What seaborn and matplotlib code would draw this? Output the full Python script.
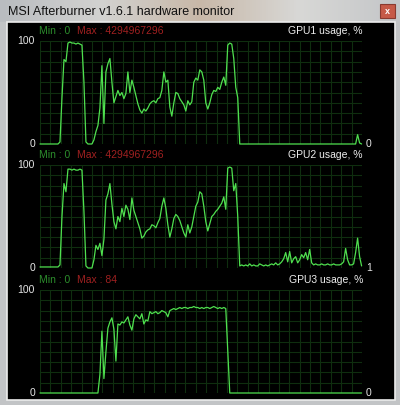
import numpy as np
import matplotlib
matplotlib.use("Agg")
import matplotlib.pyplot as plt
from matplotlib.patches import Rectangle
import seaborn as sns

# ==========================================
# 数据 (每2像素一个采样点, 0..161)
# ==========================================
gpu1_usage = [
    0, 0, 0, 0, 0, 0, 0, 0, 0, 0,
    2, 45, 82, 80, 98, 99, 98, 98, 97, 98,
    97, 96, 60, 2, 0, 0, 0, 4, 12, 18,
    35, 76, 20, 70, 78, 83, 60, 40, 46, 52,
    47, 50, 44, 49, 70, 50, 62, 55, 47, 39,
    33, 30, 34, 32, 35, 39, 41, 42, 40, 44,
    45, 52, 70, 60, 62, 36, 27, 40, 50, 49,
    44, 41, 38, 32, 42, 38, 41, 60, 64, 62,
    72, 70, 62, 40, 34, 40, 48, 52, 51, 55,
    53, 60, 65, 57, 96, 98, 97, 83, 55, 45,
    0, 0, 0, 0, 0, 0, 0, 0, 0, 0,
    0, 0, 0, 0, 0, 0, 0, 0, 0, 0,
    0, 0, 0, 0, 0, 0, 0, 0, 0, 0,
    0, 0, 0, 0, 0, 0, 0, 0, 0, 0,
    0, 0, 0, 0, 0, 0, 0, 0, 0, 0,
    0, 0, 0, 0, 0, 0, 0, 0, 0, 9,
    1, 0,
]
gpu2_usage = [
    1, 1, 1, 1, 1, 1, 1, 1, 1, 1,
    3, 50, 82, 74, 96, 96, 95, 96, 95, 95,
    96, 95, 55, 2, 0, 0, 0, 8, 22, 18,
    24, 12, 28, 66, 72, 82, 62, 45, 38, 50,
    45, 58, 50, 61, 57, 47, 68, 56, 50, 44,
    38, 29, 31, 35, 37, 38, 42, 41, 39, 44,
    48, 60, 68, 58, 42, 30, 38, 48, 52, 50,
    46, 40, 34, 30, 42, 34, 40, 50, 60, 64,
    74, 72, 60, 45, 36, 43, 50, 52, 55, 57,
    60, 63, 69, 57, 97, 98, 97, 75, 82, 50,
    2, 3, 2, 3, 2, 4, 2, 3, 2, 2,
    4, 3, 2, 3, 2, 3, 4, 3, 5, 3,
    4, 6, 9, 15, 6, 16, 5, 9, 11, 5,
    8, 13, 10, 15, 8, 18, 5, 3, 4, 3,
    3, 4, 3, 3, 4, 3, 3, 4, 3, 3,
    3, 4, 6, 19, 8, 3, 3, 4, 15, 29,
    11, 2,
]
gpu3_usage = [
    0, 0, 0, 0, 0, 0, 0, 0, 0, 0,
    0, 0, 0, 0, 0, 0, 0, 0, 0, 0,
    0, 0, 0, 0, 0, 0, 0, 0, 0, 0,
    18, 60, 14, 40, 63, 69, 73, 62, 31, 67,
    66, 69, 68, 71, 74, 66, 61, 72, 76, 74,
    72, 77, 67, 71, 70, 79, 77, 78, 79, 77,
    78, 80, 79, 78, 74, 80, 81, 82, 81, 82,
    83, 82, 83, 83, 82, 83, 83, 84, 83, 83,
    82, 83, 82, 83, 83, 82, 83, 84, 83, 82,
    83, 82, 83, 82, 40, 0, 0, 0, 0, 0,
    0, 0, 0, 0, 0, 0, 0, 0, 0, 0,
    0, 0, 0, 0, 0, 0, 0, 0, 0, 0,
    0, 0, 0, 0, 0, 0, 0, 0, 0, 0,
    0, 0, 0, 0, 0, 0, 0, 0, 0, 0,
    0, 0, 0, 0, 0, 0, 0, 0, 0, 0,
    0, 0, 0, 0, 0, 0, 0, 0, 0, 0,
    0, 0,
]
series = [gpu1_usage, gpu2_usage, gpu3_usage]
graph_names = ["GPU1 usage, %", "GPU2 usage, %", "GPU3 usage, %"]
min_labels = ["Min : 0", "Min : 0", "Min : 0"]
max_labels = ["Max : 4294967296", "Max : 4294967296", "Max : 84"]
last_values = ["0", "1", "0"]
window_title = "MSI Afterburner v1.6.1 hardware monitor"

# ==========================================
# 样式
# ==========================================
sns.set_style("dark")
plt.rcParams['font.family'] = ['Liberation Sans', 'DejaVu Sans']

W, H = 400, 405
LINE = '#4fe04f'
GRID = '#0f2e0f'

fig = plt.figure(figsize=(W / 100, H / 100), dpi=100)
fig.patch.set_facecolor('#c6c6c6')

# 窗口外框 (像素坐标)
bg = fig.add_axes([0, 0, 1, 1])
bg.set_xlim(0, W)
bg.set_ylim(H, 0)
bg.axis('off')
grad = np.linspace(0, 1, 200)[None, :]
bg.imshow(np.vstack([grad, grad]), cmap=matplotlib.colors.LinearSegmentedColormap.from_list(
    'tb', ['#b9bcc0', '#d2d2d0', '#c8b8a8', '#d8d8d6', '#c4c6c8']),
    extent=(0, W, 22, 0), aspect='auto', zorder=0)
bg.add_patch(Rectangle((0, 22), W, H - 22, color='#c2c4c6', zorder=0.5))
bg.add_patch(Rectangle((7, 22), 388, 378, facecolor='black', edgecolor='#ececec', lw=1.2, zorder=1))
bg.add_patch(Rectangle((380, 4), 15, 14, facecolor='#c65a48', edgecolor='#8a3a30', lw=0.8, zorder=1))
bg.text(387.5, 11, 'x', color='white', fontsize=6.5, fontweight='bold', ha='center', va='center', zorder=2)
bg.text(8, 12, window_title, color='#111111', fontsize=9, ha='left', va='center', zorder=2)

panels = [(41, 144), (165, 268), (290, 393)]
x_left, x_right = 40, 362

for vals, (top, bottom), name, mn, mx, last in zip(series, panels, graph_names,
                                                   min_labels, max_labels, last_values):
    ax = fig.add_axes([x_left / W, 1 - bottom / H, (x_right - x_left) / W, (bottom - top) / H])
    ax.set_facecolor('black')
    idx = np.arange(len(vals))
    ax.set_xlim(0, len(vals) - 1)
    ax.set_ylim(0, 100)
    ax.set_xticks(np.arange(0, len(vals), 5.2))
    ax.set_yticks(np.arange(0, 101, 10))
    ax.grid(True, color=GRID, lw=0.8)
    ax.tick_params(length=0, labelbottom=False, labelleft=False)
    for s in ax.spines.values():
        s.set_visible(False)
    sns.lineplot(x=idx, y=vals, ax=ax, color=LINE, linewidth=0.9, clip_on=False, zorder=3)
    ax.set_xlabel('')
    ax.set_ylabel('')

    bg.text(35, top, '100', color='#e6e6e6', fontsize=7.5, ha='right', va='center', zorder=2)
    bg.text(35, bottom, '0', color='#e6e6e6', fontsize=7.5, ha='right', va='center', zorder=2)
    bg.text(366, bottom, last, color='#e6e6e6', fontsize=7.5, ha='left', va='center', zorder=2)
    bg.text(39, top - 10, mn, color='#2c8e2c', fontsize=7.5, ha='left', va='center', zorder=2)
    bg.text(77, top - 10, mx, color='#a02020', fontsize=7.5, ha='left', va='center', zorder=2)
    bg.text(363, top - 10, name, color='#eeeeee', fontsize=7.5, ha='right', va='center', zorder=2)

fig.savefig('out.png', dpi=100, facecolor=fig.get_facecolor())
